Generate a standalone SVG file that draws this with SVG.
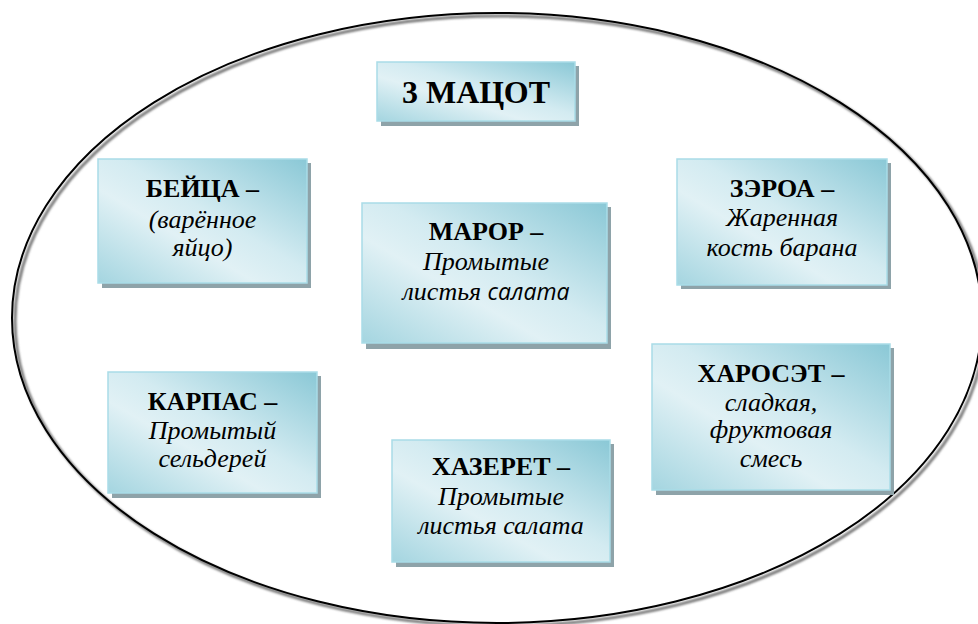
<svg xmlns="http://www.w3.org/2000/svg" width="978" height="624" viewBox="0 0 978 624">
<defs>
<linearGradient id="boxg" x1="1" y1="0" x2="0" y2="1">
<stop offset="0" stop-color="#8ac8d6"/>
<stop offset="0.45" stop-color="#d3ebf1"/>
<stop offset="0.62" stop-color="#e1f1f5"/>
<stop offset="1" stop-color="#a4d5e0"/>
</linearGradient>
<filter id="blur" x="-5%" y="-5%" width="110%" height="110%"><feGaussianBlur stdDeviation="1.2"/></filter>
</defs>
<style>
.box{fill:url(#boxg);stroke:#a9dce7;stroke-width:1.5}
.sh{fill:#8ea3a9}
text{font-size:26px;text-anchor:middle;fill:#000}
.b{font-weight:bold}
.i{font-style:italic}
.big{font-size:32px}
</style>
<rect width="978" height="624" fill="#fff"/>
<g id="oval">
<ellipse cx="500" cy="321" rx="485" ry="305" fill="none" stroke="#777" stroke-width="3" filter="url(#blur)"/>
<ellipse cx="497" cy="318" rx="485" ry="305" fill="none" stroke="#000" stroke-width="2"/>
</g>
<g id="connectors"></g>
<g font-family="Liberation Serif, DejaVu Serif, serif">
<g id="title">
<rect class="sh" x="381" y="66" width="198" height="60"/>
<rect class="box" x="377" y="62" width="198" height="59"/>
<text class="b big" x="476" y="103">3 МАЦОТ</text>
</g>
<g id="beitsa">
<rect class="sh" x="102" y="163" width="209" height="125"/>
<rect class="box" x="98" y="159" width="209" height="124"/>
<text class="b" x="202.5" y="197">БЕЙЦА –</text>
<text class="i" x="202.5" y="228">(варённое</text>
<text class="i" x="202.5" y="256">яйцо)</text>
</g>
<g id="maror">
<rect class="sh" x="366" y="207" width="245" height="142"/>
<rect class="box" x="362" y="203" width="245" height="140"/>
<text class="b" x="486" y="240">МАРОР –</text>
<text class="i" x="486" y="270">Промытые</text>
<text class="i" x="486" y="300">листья <tspan font-family="Open Sans, Liberation Sans, sans-serif" font-size="23">салата</tspan></text>
</g>
<g id="zeroa">
<rect class="sh" x="681" y="163" width="210" height="126"/>
<rect class="box" x="677" y="159" width="210" height="126"/>
<text class="b" x="782" y="197">ЗЭРОА –</text>
<text class="i" x="782" y="226">Жаренная</text>
<text class="i" x="782" y="256">кость барана</text>
</g>
<g id="karpas">
<rect class="sh" x="112" y="376" width="209" height="122"/>
<rect class="box" x="108" y="372" width="209" height="121"/>
<text class="b" x="212.5" y="410">КАРПАС –</text>
<text class="i" x="212.5" y="439">Промытый</text>
<text class="i" x="212.5" y="467">сельдерей</text>
</g>
<g id="khazeret">
<rect class="sh" x="396" y="444" width="218" height="123"/>
<rect class="box" x="392" y="440" width="218" height="122"/>
<text class="b" x="501" y="475">ХАЗЕРЕТ –</text>
<text class="i" x="501" y="505">Промытые</text>
<text class="i" x="501" y="534">листья салата</text>
</g>
<g id="kharoset">
<rect class="sh" x="656" y="348" width="238" height="147"/>
<rect class="box" x="652" y="344" width="238" height="146"/>
<text class="b" x="771" y="382">ХАРОСЭТ –</text>
<text class="i" x="771" y="411">сладкая,</text>
<text class="i" x="771" y="438">фруктовая</text>
<text class="i" x="771" y="467">смесь</text>
</g>
</g>
</svg>
